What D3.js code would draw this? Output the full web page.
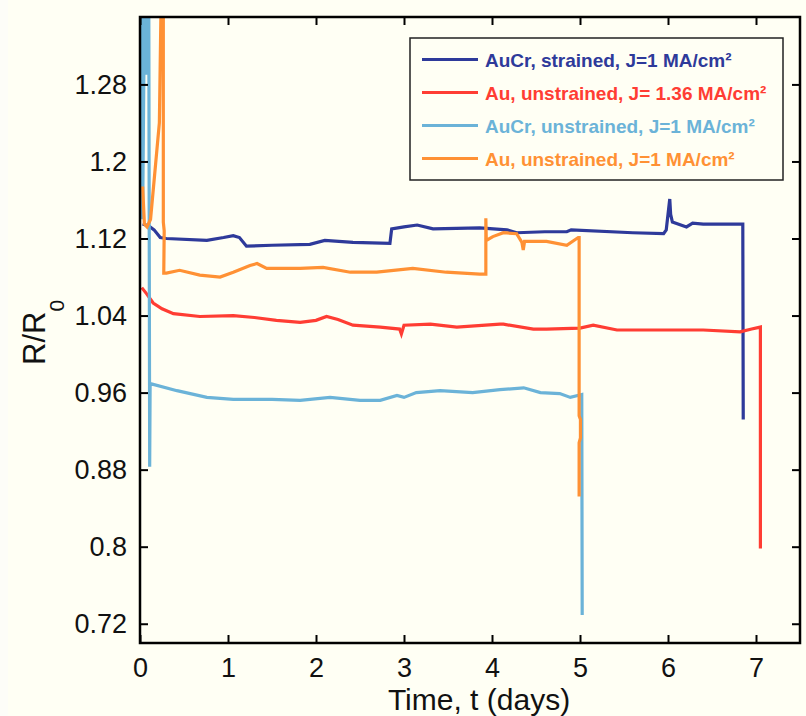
<!DOCTYPE html>
<html>
<head>
<meta charset="utf-8">
<script src="https://cdn.jsdelivr.net/npm/d3@7"></script>
<style>
  html, body { margin: 0; padding: 0; background: #fffff4; }
  svg { display: block; }
  text { font-family: "Liberation Sans", Arial, sans-serif; }
</style>
</head>
<body>
<svg id="chart" width="806" height="716"></svg>
<script>
// Resistance ratio R/R0 versus time for four electromigration samples.

const seriesNames = [
  "AuCr, strained, J=1 MA/cm²",
  "Au, unstrained, J= 1.36 MA/cm²",
  "AuCr, unstrained, J=1 MA/cm²",
  "Au, unstrained, J=1 MA/cm²"
];
const seriesColors = ["#2e3a9a", "#ff3d33", "#6bb3d8", "#ff9134"];

// AuCr, strained, J=1 MA/cm²
const auCrStrainedT = [0.03, 0.10, 0.16, 0.23, 0.30, 0.76, 0.95, 1.06, 1.13, 1.21, 1.50, 1.93, 2.10, 2.42, 2.84, 2.86, 3.00, 3.15, 3.33, 3.86, 4.17, 4.28, 4.60, 4.85, 4.90, 5.60, 5.95, 5.98, 6.02, 6.03, 6.05, 6.21, 6.28, 6.40, 6.85, 6.855];
const auCrStrainedR = [1.135, 1.133, 1.129, 1.121, 1.120, 1.118, 1.121, 1.123, 1.121, 1.112, 1.113, 1.114, 1.118, 1.116, 1.115, 1.130, 1.132, 1.134, 1.130, 1.131, 1.129, 1.126, 1.127, 1.127, 1.129, 1.126, 1.125, 1.129, 1.161, 1.145, 1.137, 1.132, 1.136, 1.135, 1.135, 0.932];

// Au, unstrained, J=1.36 MA/cm²
const au136T = [0.02, 0.08, 0.15, 0.25, 0.38, 0.68, 1.06, 1.30, 1.55, 1.82, 2.00, 2.12, 2.25, 2.42, 2.73, 2.95, 2.97, 3.00, 3.30, 3.60, 4.09, 4.13, 4.47, 4.62, 5.00, 5.15, 5.42, 5.98, 6.40, 6.82, 6.95, 7.05, 7.05];
const au136R = [1.069, 1.062, 1.053, 1.047, 1.042, 1.039, 1.040, 1.038, 1.035, 1.033, 1.035, 1.039, 1.036, 1.030, 1.028, 1.026, 1.021, 1.030, 1.031, 1.028, 1.031, 1.031, 1.026, 1.026, 1.027, 1.030, 1.025, 1.025, 1.025, 1.023, 1.026, 1.028, 0.798];

// AuCr, unstrained, J=1 MA/cm²
const auCrUnstrainedT = [0.02, 0.03, 0.05, 0.07, 0.09, 0.10, 0.11, 0.115, 0.13, 0.42, 0.76, 1.06, 1.50, 1.82, 2.16, 2.50, 2.73, 2.92, 3.00, 3.14, 3.41, 3.78, 4.09, 4.36, 4.55, 4.77, 4.89, 5.02, 5.025];
const auCrUnstrainedR = [1.36, 1.14, 1.36, 1.29, 1.36, 1.36, 0.883, 0.967, 0.969, 0.962, 0.955, 0.953, 0.953, 0.952, 0.955, 0.952, 0.952, 0.957, 0.955, 0.960, 0.962, 0.960, 0.963, 0.965, 0.960, 0.959, 0.955, 0.958, 0.729];

// Au, unstrained, J=1 MA/cm²
const au1T = [0.03, 0.05, 0.08, 0.12, 0.17, 0.20, 0.22, 0.245, 0.265, 0.265, 0.275, 0.27, 0.30, 0.45, 0.68, 0.91, 1.06, 1.25, 1.33, 1.44, 1.82, 2.08, 2.39, 2.69, 3.10, 3.48, 3.86, 3.93, 3.93, 3.935, 4.01, 4.13, 4.28, 4.34, 4.355, 4.37, 4.62, 4.85, 4.98, 4.99, 4.99, 5.005, 5.005, 4.99, 4.99];
const au1R = [1.174, 1.135, 1.132, 1.140, 1.190, 1.220, 1.240, 1.400, 1.400, 1.137, 1.128, 1.084, 1.084, 1.087, 1.082, 1.080, 1.085, 1.092, 1.094, 1.089, 1.089, 1.090, 1.085, 1.085, 1.089, 1.085, 1.083, 1.083, 1.141, 1.118, 1.122, 1.126, 1.125, 1.116, 1.108, 1.117, 1.117, 1.113, 1.121, 1.121, 0.936, 0.932, 0.913, 0.908, 0.852];

const xTicks = [0, 1, 2, 3, 4, 5, 6, 7];
const yTicks = [0.72, 0.80, 0.88, 0.96, 1.04, 1.12, 1.20, 1.28];

const series = [
  { t: auCrStrainedT, r: auCrStrainedR },
  { t: au136T, r: au136R },
  { t: auCrUnstrainedT, r: auCrUnstrainedR },
  { t: au1T, r: au1R }
].map((s, i) => ({
  name: seriesNames[i],
  color: seriesColors[i],
  points: s.t.map((t, k) => [t, s.r[k]])
}));

const svg = d3.select("#chart");
const W = 806, H = 716;
const plot = { left: 140, right: 800, top: 17, bottom: 643 };

svg.append("rect").attr("width", W).attr("height", H).attr("fill", "#fffff4");
svg.append("rect").attr("width", 8).attr("height", H).attr("fill", "#fdfdf8");

const x = d3.scaleLinear().domain([0, 7.5]).range([plot.left, plot.right]);
const y = d3.scaleLinear().domain([0.70, 1.35]).range([plot.bottom, plot.top]);

svg.append("defs").append("clipPath").attr("id", "plot-clip")
  .append("rect")
  .attr("x", plot.left).attr("y", plot.top)
  .attr("width", plot.right - plot.left).attr("height", plot.bottom - plot.top);

// Data lines
const line = d3.line().x(d => x(d[0])).y(d => y(d[1]));
svg.append("g").attr("clip-path", "url(#plot-clip)")
  .selectAll("path")
  .data(series)
  .join("path")
  .attr("d", d => line(d.points))
  .attr("fill", "none")
  .attr("stroke", d => d.color)
  .attr("stroke-width", 3.2)
  .attr("stroke-linejoin", "miter")
  .attr("stroke-linecap", "butt");

// Axes with inward ticks on all four sides
const tickLen = 8;
const fmtY = d => d3.format(".2f")(d).replace(/0$/, "").replace(/\.$/, "");

const axisStyle = g => {
  g.select(".domain").remove();
  g.selectAll(".tick line").attr("stroke", "#000").attr("stroke-width", 2);
  g.selectAll(".tick text")
    .attr("fill", "#111")
    .attr("font-size", 27)
    .attr("font-family", "'Liberation Sans', Arial, sans-serif");
};

svg.append("g")
  .attr("transform", `translate(0,${plot.bottom})`)
  .call(d3.axisBottom(x).tickValues(xTicks).tickSize(-tickLen).tickPadding(tickLen + 7).tickFormat(d3.format("d")))
  .call(axisStyle);

svg.append("g")
  .attr("transform", `translate(0,${plot.top})`)
  .call(d3.axisTop(x).tickValues(xTicks).tickSize(-tickLen).tickFormat(""))
  .call(axisStyle);

svg.append("g")
  .attr("transform", `translate(${plot.left},0)`)
  .call(d3.axisLeft(y).tickValues(yTicks).tickSize(-tickLen).tickPadding(tickLen + 5).tickFormat(fmtY))
  .call(axisStyle);

svg.append("g")
  .attr("transform", `translate(${plot.right},0)`)
  .call(d3.axisRight(y).tickValues(yTicks).tickSize(-tickLen).tickFormat(""))
  .call(axisStyle);

// Plot frame
svg.append("rect")
  .attr("x", plot.left).attr("y", plot.top)
  .attr("width", plot.right - plot.left).attr("height", plot.bottom - plot.top)
  .attr("fill", "none").attr("stroke", "#000").attr("stroke-width", 2.5);

// Axis titles
svg.append("text")
  .attr("x", 479).attr("y", 710)
  .attr("text-anchor", "middle")
  .attr("font-size", 30)
  .attr("fill", "#111")
  .text("Time, t (days)");

const yTitle = svg.append("text")
  .attr("transform", "translate(45,365) rotate(-90)")
  .attr("font-size", 31)
  .attr("fill", "#111");
yTitle.append("tspan").text("R/R");
yTitle.append("tspan").attr("dy", 19).attr("font-size", 21).text("0");

// Legend
const legend = svg.append("g");
legend.append("rect")
  .attr("x", 410).attr("y", 38).attr("width", 373).attr("height", 142)
  .attr("fill", "#fffff4").attr("stroke", "#222").attr("stroke-width", 1.5);

const rowY = d3.scalePoint().domain(d3.range(series.length)).range([59.5, 158.5]);
const rows = legend.selectAll("g.row").data(series).join("g")
  .attr("class", "row")
  .attr("transform", (d, i) => `translate(0,${rowY(i)})`);
rows.append("line")
  .attr("x1", 422).attr("x2", 478)
  .attr("stroke", d => d.color).attr("stroke-width", 3);
rows.append("text")
  .attr("x", 485).attr("y", 7)
  .attr("font-size", 19)
  .attr("font-weight", "bold")
  .attr("fill", d => d.color)
  .text(d => d.name);
</script>
</body>
</html>
